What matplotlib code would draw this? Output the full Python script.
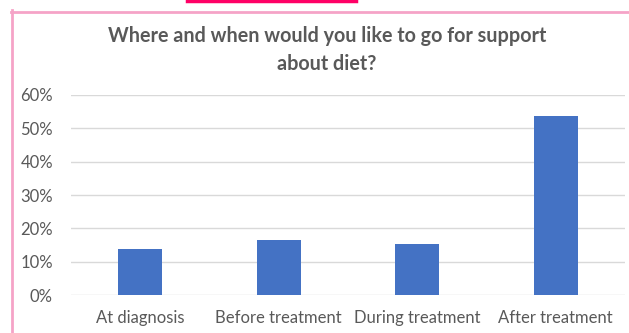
import matplotlib
matplotlib.use("Agg")
import matplotlib.pyplot as plt
from matplotlib.lines import Line2D
from matplotlib.ticker import PercentFormatter

categories = ["At diagnosis", "Before treatment", "During treatment", "After treatment"]
values = [0.138, 0.165, 0.152, 0.538]
yticks = [0.0, 0.1, 0.2, 0.3, 0.4, 0.5, 0.6]
title = "Where and when would you like to go for support\nabout diet?"

W, H = 629, 333
fig = plt.figure(figsize=(W / 100, H / 100), dpi=100)
fig.patch.set_facecolor("white")

text_color = "#595959"
font = "Lato"

ax = fig.add_axes([71 / W, (H - 295) / H, (625 - 71) / W, 200 / H])
ax.bar(range(len(categories)), values, width=0.315, color="#4472C4", zorder=3)
ax.set_xlim(-0.5, len(categories) - 0.5)
ax.set_ylim(0, 0.6)
ax.set_yticks(yticks)
ax.yaxis.set_major_formatter(PercentFormatter(1.0, decimals=0))
ax.set_xticks(range(len(categories)))
ax.set_xticklabels(categories)
for s in ax.spines.values():
    s.set_visible(False)
ax.grid(axis="y", color="#D9D9D9", linewidth=1.0, zorder=0)
ax.tick_params(axis="both", length=0, labelcolor=text_color, labelsize=12)
ax.tick_params(axis="y", pad=13)
ax.tick_params(axis="x", pad=11)
for lbl in ax.get_xticklabels() + ax.get_yticklabels():
    lbl.set_fontfamily(font)

fig.text(327 / W, 1 - 50 / H, title, ha="center", va="center", fontsize=14.2,
         fontweight="bold", color=text_color, family=font, linespacing=1.5)

# pink frame around the chart and the underline above it
fig.add_artist(Line2D([11.5 / W, 11.5 / W], [0, 1 - 10 / H], color="#F5A3C7",
                      linewidth=2.0, transform=fig.transFigure))
fig.add_artist(Line2D([10.5 / W, 1], [1 - 11.5 / H, 1 - 11.5 / H], color="#F5A3C7",
                      linewidth=2.0, transform=fig.transFigure))
fig.add_artist(Line2D([187 / W, 356 / W], [1 - 1 / H, 1 - 1 / H], color="#FF0066",
                      linewidth=2.5, transform=fig.transFigure))

fig.savefig("out.png", dpi=100, facecolor="white")
